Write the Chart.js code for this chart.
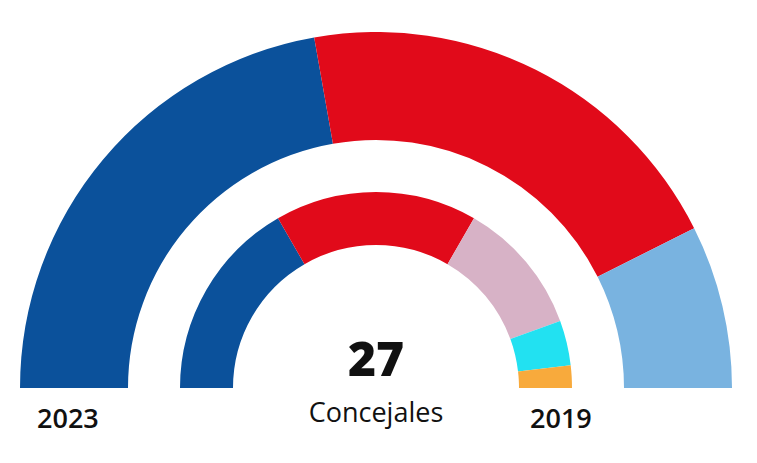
<!DOCTYPE html>
<html>
<head>
<meta charset="utf-8">
<script src="https://cdn.jsdelivr.net/npm/chart.js@4/dist/chart.umd.min.js"></script>
<style>
  body { margin: 0; background: #fff; width: 757px; height: 463px; position: relative; overflow: hidden; font-family: "Open Sans", sans-serif; color: #111; }
  #wrap { position: absolute; left: 20px; top: 32px; width: 712px; height: 356px; }
  .lbl { position: absolute; white-space: nowrap; }
  #total { left: 276px; width: 200px; text-align: center; top: 334px; font-size: 48px; line-height: 48px; font-weight: 800; }
  #sub { left: 276px; width: 200px; text-align: center; top: 398px; font-size: 27px; line-height: 27px; }
  #y1 { left: 37px; top: 404px; font-size: 27px; line-height: 27px; font-weight: 600; }
  #y2 { left: 530px; top: 404px; font-size: 27px; line-height: 27px; font-weight: 600; }
</style>
</head>
<body>
<div id="wrap"><canvas id="hemiciclo"></canvas></div>
<div class="lbl" id="total"></div>
<div class="lbl" id="sub">Concejales</div>
<div class="lbl" id="y1">2023</div>
<div class="lbl" id="y2">2019</div>

<script>
// concejales por grupo, de izquierda a derecha
const grupos2023 = ['Azul', 'Rojo', 'Celeste']
const escanos2023 = [12, 11, 4]
const colores2023 = ['#0b519b', '#e10a1a', '#79b3e0']

const grupos2019 = ['Azul', 'Rojo', 'Rosa', 'Cian', 'Naranja']
const escanos2019 = [9, 9, 6, 2, 1]
const colores2019 = ['#0b519b', '#e10a1a', '#d7b2c6', '#22e1f1', '#f8aa3c']

const totalConcejales = escanos2023.reduce((a, b) => a + b, 0)
document.getElementById('total').textContent = totalConcejales

// radios en px: exterior 356, hueco interior 143
const huecoCentral = (143 / 356 * 100) + '%'

new Chart(document.getElementById('hemiciclo'), {
    type: 'doughnut',
    data: {
        labels: grupos2019,
        datasets: [
            { label: '2023', data: escanos2023, backgroundColor: colores2023, weight: 108 },
            // anillo vacio para separar
            { label: '', data: [1], backgroundColor: 'rgba(0,0,0,0)', weight: 52 },
            { label: '2019', data: escanos2019, backgroundColor: colores2019, weight: 53 }
        ]
    },
    options: {
        responsive: true,
        maintainAspectRatio: false,
        animation: false,
        rotation: -90,
        circumference: 180,
        cutout: huecoCentral,
        borderWidth: 0,
        layout: { padding: 0 },
        plugins: {
            legend: { display: false },
            tooltip: { enabled: false }
        }
    }
})
</script>
</body>
</html>
